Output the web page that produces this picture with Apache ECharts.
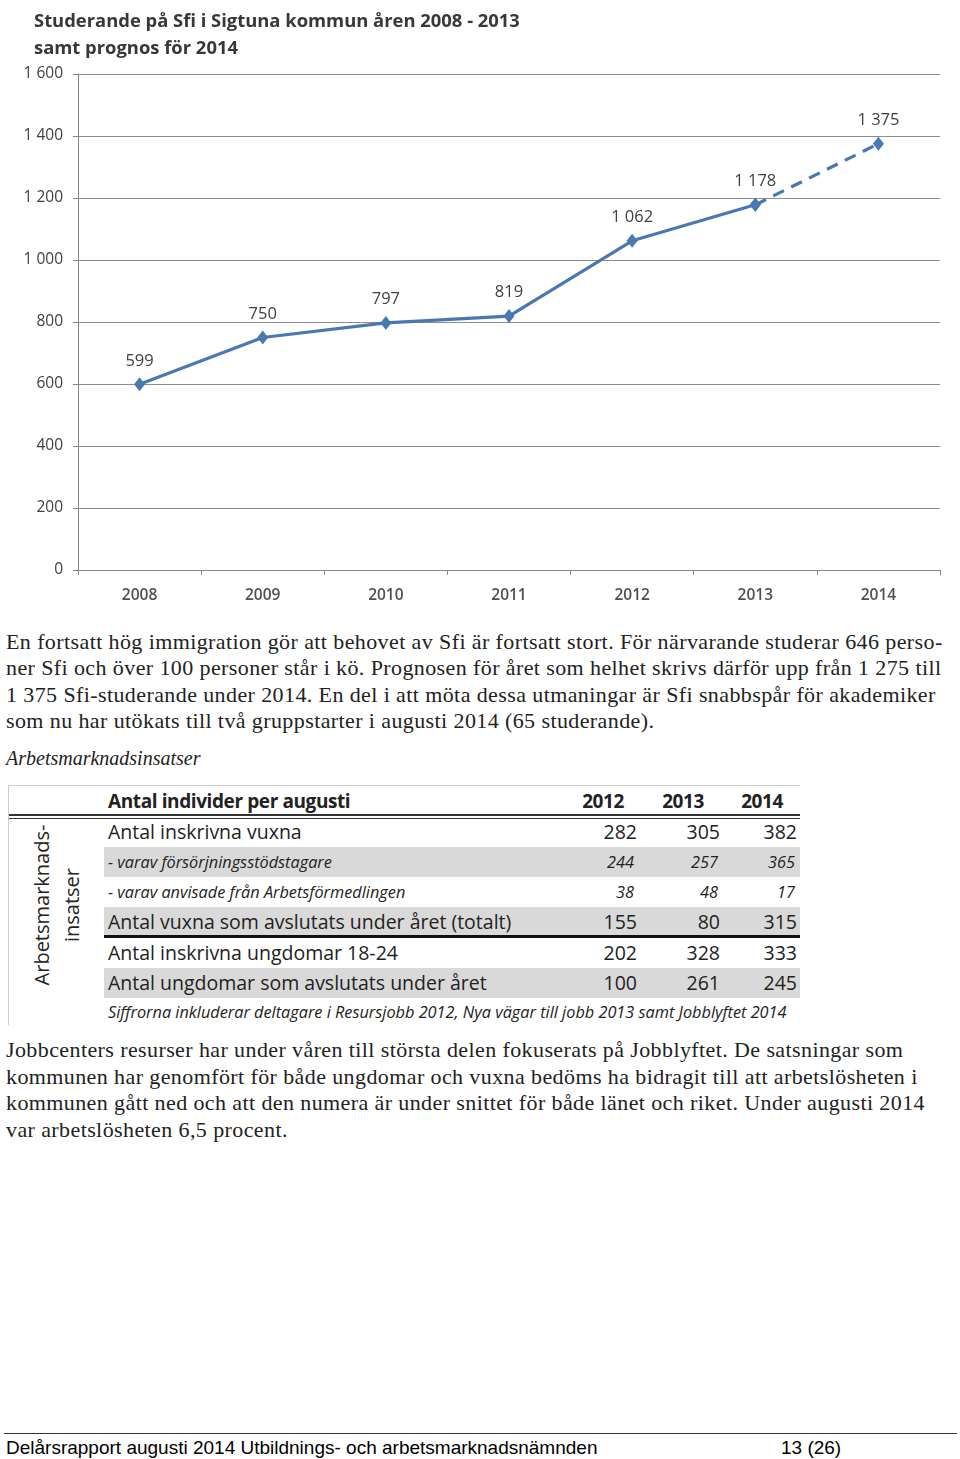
<!DOCTYPE html>
<html>
<head>
<meta charset="utf-8">
<script src="https://cdn.jsdelivr.net/npm/echarts@6/dist/echarts.min.js"></script>
<style>
  html, body { margin:0; padding:0; background:#fff; }
  #page { position:relative; width:960px; height:1459px; overflow:hidden; background:#fff; }
  #chart { position:absolute; left:0; top:0; width:960px; height:612px; }
  .p { position:absolute; left:6px; font-family:"Liberation Serif","DejaVu Serif",serif; font-size:22px; letter-spacing:0.4px; color:#222; white-space:nowrap; line-height:26px; }
  .sub { position:absolute; left:6px; top:747px; font-family:"Liberation Serif",serif; font-style:italic; font-size:20px; color:#222; white-space:nowrap; letter-spacing:0px; }
  .t { position:absolute; font-family:"Open Sans","Noto Sans",sans-serif; color:#222; white-space:nowrap; line-height:20px; }
  .band { position:absolute; left:104px; width:696px; height:30px; background:#d9d9d9; }
  .num { position:absolute; font-family:"Open Sans","Noto Sans",sans-serif; color:#222; text-align:right; width:60px; white-space:nowrap; line-height:20px; }
  .foot { position:absolute; top:1437px; font-family:"Liberation Sans",Arial,sans-serif; font-size:19px; color:#000; white-space:nowrap; line-height:22px; }
</style>
</head>
<body>
<div id="page">
  <div id="chart"></div>

  <div class="p" style="top:629px">En fortsatt hög immigration gör att behovet av Sfi är fortsatt stort. För närvarande studerar 646 perso-</div>
  <div class="p" style="top:655px">ner Sfi och över 100 personer står i kö. Prognosen för året som helhet skrivs därför upp från 1 275 till</div>
  <div class="p" style="top:682px">1 375 Sfi-studerande under 2014. En del i att möta dessa utmaningar är Sfi snabbspår för akademiker</div>
  <div class="p" style="top:708px">som nu har utökats till två gruppstarter i augusti 2014 (65 studerande).</div>
  <div class="sub">Arbetsmarknadsinsatser</div>

  <div id="table"></div>

  <div class="p" style="top:1037px">Jobbcenters resurser har under våren till största delen fokuserats på Jobblyftet. De satsningar som</div>
  <div class="p" style="top:1064px">kommunen har genomfört för både ungdomar och vuxna bedöms ha bidragit till att arbetslösheten i</div>
  <div class="p" style="top:1090px">kommunen gått ned och att den numera är under snittet för både länet och riket. Under augusti 2014</div>
  <div class="p" style="top:1117px">var arbetslösheten 6,5 procent.</div>

  <div style="position:absolute;left:4px;top:1433px;width:953px;height:1px;background:#333"></div>
  <div class="foot" style="left:6px">Delårsrapport augusti 2014 Utbildnings- och arbetsmarknadsnämnden</div>
  <div class="foot" style="left:781px">13 (26)</div>
</div>
<script>
// ---- chart data ----
var years = ['2008','2009','2010','2011','2012','2013','2014'];
var actual = [599, 750, 797, 819, 1062, 1178, null];
var forecast = [null, null, null, null, null, 1178, 1375];
var yTicks = [0, 200, 400, 600, 800, 1000, 1200, 1400, 1600];

// ---- table data ----
var tableYears = ['2012','2013','2014'];
var tableHeader = 'Antal individer per augusti';
var rowLabels = ['Antal inskrivna vuxna', '- varav försörjningsstödstagare', '- varav anvisade från Arbetsförmedlingen',
  'Antal vuxna som avslutats under året (totalt)', 'Antal inskrivna ungdomar 18-24', 'Antal ungdomar som avslutats under året'];
var rowValues = [[282,305,382],[244,257,365],[38,48,17],[155,80,315],[202,328,333],[100,261,245]];
var rowItalic = [false, true, true, false, false, false];
var tableNote = 'Siffrorna inkluderar deltagare i Resursjobb 2012, Nya vägar till jobb 2013 samt Jobblyftet 2014';
var sideLabel = ['Arbetsmarknads-', 'insatser'];

function fmt(v){ return String(v).replace(/\B(?=(\d{3})+(?!\d))/g, ' '); }

var lineColor = '#4a78b0';
var chart = echarts.init(document.getElementById('chart'), null, {renderer:'canvas'});
chart.setOption({
  animation:false,
  title:{
    text:'Studerande på Sfi i Sigtuna kommun åren 2008 - 2013\nsamt prognos för 2014',
    left:29, top:3,
    textStyle:{fontFamily:'Open Sans', fontSize:18.4, fontWeight:'bold', color:'#383838', lineHeight:27}
  },
  grid:{left:78, right:20, top:74, bottom:42, containLabel:false},
  xAxis:{
    type:'category', data:years, boundaryGap:true,
    axisLine:{lineStyle:{color:'#868686', width:1}},
    axisTick:{show:true, length:5, lineStyle:{color:'#868686'}},
    axisLabel:{margin:18, fontFamily:'Open Sans', fontSize:15.5, fontWeight:600, color:'#505050'}
  },
  yAxis:{
    type:'value', min:0, max:1600, interval:200,
    axisLine:{show:true, lineStyle:{color:'#868686', width:1}},
    axisTick:{show:true, length:5, lineStyle:{color:'#868686'}},
    splitLine:{lineStyle:{color:'#8c8c8c', width:1}},
    axisLabel:{margin:15, fontFamily:'Open Sans', fontSize:15.5, color:'#404040',
      formatter:function(v){ return yTicks.indexOf(v) >= 0 ? fmt(v) : ''; }}
  },
  series:[
    {
      type:'line', data:actual, connectNulls:false,
      lineStyle:{color:lineColor, width:3.2},
      symbol:'diamond', symbolSize:[11,14],
      itemStyle:{color:lineColor},
      label:{show:true, position:'top', distance:8, fontFamily:'Open Sans', fontSize:16.5, color:'#404040',
        formatter:function(p){ return fmt(p.value); }},
      z:3
    },
    {
      type:'line', data:forecast,
      lineStyle:{color:lineColor, width:3.2, type:[12,8]},
      symbol:'diamond', symbolSize:[11,14],
      itemStyle:{color:lineColor},
      label:{show:true, position:'top', distance:8, fontFamily:'Open Sans', fontSize:16.5, color:'#404040',
        formatter:function(p){ return p.dataIndex === 6 ? fmt(p.value) : ''; }},
      z:2
    }
  ]
});

// ---- build table ----
(function(){
  var tb = document.getElementById('table');
  var html = '';
  html += '<div style="position:absolute;left:8px;top:785px;width:792px;height:1px;background:#ccc"></div>';
  html += '<div style="position:absolute;left:8px;top:785px;width:1px;height:240px;background:#ccc"></div>';
  html += '<div style="position:absolute;left:9px;top:814px;width:791px;height:2px;background:#333"></div>';
  html += '<div style="position:absolute;left:9px;top:818px;width:791px;height:1px;background:#333"></div>';
  var centers = [832, 862, 892, 922, 953, 983];
  [1,3,5].forEach(function(i){ html += '<div class="band" style="top:'+(centers[i]-15)+'px"></div>'; });
  html += '<div style="position:absolute;left:104px;top:935px;width:696px;height:3px;background:#111"></div>';
  html += '<div class="t" style="left:108px;top:791px;font-size:19px;font-weight:bold;letter-spacing:-0.4px">'+tableHeader+'</div>';
  var yRight = [624, 704, 783];
  tableYears.forEach(function(y,j){
    html += '<div class="num" style="left:'+(yRight[j]-60)+'px;top:791px;font-size:19px;font-weight:bold;letter-spacing:-0.4px">'+y+'</div>';
  });
  var vRight = [637, 720, 797];
  var vRightIt = [634, 718, 795];
  rowLabels.forEach(function(l,i){
    var it = rowItalic[i];
    var fs = it ? 16.3 : 19.5;
    var st = it ? 'font-style:italic;' : '';
    html += '<div class="t" style="left:108px;top:'+(centers[i]-10)+'px;font-size:'+fs+'px;'+st+'">'+l+'</div>';
    rowValues[i].forEach(function(v,j){
      var r = it ? vRightIt[j] : vRight[j];
      html += '<div class="num" style="left:'+(r-60)+'px;top:'+(centers[i]-10)+'px;font-size:'+fs+'px;'+st+'">'+v+'</div>';
    });
  });
  html += '<div class="t" style="left:108px;top:1002px;font-size:16.3px;font-style:italic">'+tableNote+'</div>';
  html += '<div class="t" style="position:absolute;left:57px;top:905px;font-size:20px;line-height:30px;text-align:center;transform:translate(-50%,-50%) rotate(-90deg);transform-origin:50% 50%">'+sideLabel.join('<br>')+'</div>';
  tb.innerHTML = html;
})();
</script>
</body>
</html>
